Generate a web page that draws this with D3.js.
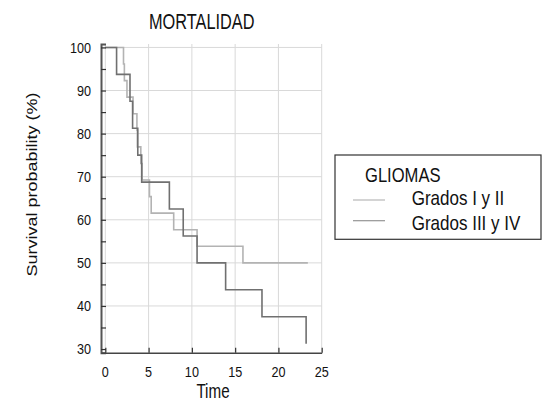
<!DOCTYPE html>
<html>
<head>
<meta charset="utf-8">
<script src="https://cdn.jsdelivr.net/npm/d3@7"></script>
<style>
  html, body { margin: 0; padding: 0; background: #fff; }
  svg { display: block; }
  text { font-family: "Liberation Sans", Arial, sans-serif; fill: #111; }
</style>
</head>
<body>
<svg id="chart" width="542" height="407"></svg>
<script>
// ---- data ----
const title = "MORTALIDAD";
const xLabel = "Time";
const yLabel = "Survival probability (%)";
const legendTitle = "GLIOMAS";
const seriesNames = ["Grados I y II", "Grados III y IV"];

const lowTimes = [0, 2.1, 2.2, 2.5, 3.2, 3.65, 3.7, 4.1, 4.25, 5.1, 5.3, 7.9, 10.6, 15.9, 23.4];
const lowSurv  = [100, 96.15, 92.31, 88.46, 84.62, 80.77, 76.92, 73.08, 69.23, 65.38, 61.54, 57.69, 53.85, 50, 50];

const highTimes = [0, 1.3, 2.85, 3.15, 3.75, 4.2, 7.4, 9.0, 10.6, 13.9, 18.1, 23.2];
const highSurv  = [100, 93.75, 87.5, 81.25, 75, 68.75, 62.5, 56.25, 50, 43.75, 37.5, 31.25];

const xTicks = [0, 5, 10, 15, 20, 25];
const yTicks = [30, 40, 50, 60, 70, 80, 90, 100];
const yMinorTicks = [30, 35, 40, 45, 50, 55, 60, 65, 70, 75, 80, 85, 90, 95, 100];
const yGrid = [40, 50, 60, 70, 80, 90, 100];

const colors = ["#b3b3b3", "#707070"];
const legendColors = ["#b8b8b8", "#959595"];

// ---- layout ----
const svg = d3.select("#chart");
const x = d3.scaleLinear().domain([-0.5, 25]).range([101, 321.7]);
const y = d3.scaleLinear().domain([29.15, 100.8]).range([352.7, 44]);

function txt(str, px, py, size, sx, anchor) {
  return svg.append("text")
    .attr("transform", `translate(${px},${py}) scale(${sx},1)`)
    .attr("text-anchor", anchor || "start")
    .style("font-size", size + "px")
    .text(str);
}

// grid
svg.append("g").selectAll("line.vg").data(xTicks).join("line")
  .attr("x1", d => x(d)).attr("x2", d => x(d))
  .attr("y1", y(100.8)).attr("y2", y(29.15))
  .attr("stroke", "#d9d9d9").attr("stroke-width", 1);
svg.append("g").selectAll("line.hg").data(yGrid).join("line")
  .attr("x1", x(-0.5)).attr("x2", x(25))
  .attr("y1", d => y(d)).attr("y2", d => y(d))
  .attr("stroke", "#d9d9d9").attr("stroke-width", 1);

// curves
const line = d3.line().x(d => x(d[0])).y(d => y(d[1])).curve(d3.curveStepAfter);
const lowData = lowTimes.map((t, i) => [t, lowSurv[i]]);
const highData = highTimes.map((t, i) => [t, highSurv[i]]);
svg.append("path").datum(lowData).attr("d", line)
  .attr("fill", "none").attr("stroke", colors[0]).attr("stroke-width", 1.6);
svg.append("path").datum(highData).attr("d", line)
  .attr("fill", "none").attr("stroke", colors[1]).attr("stroke-width", 1.6);

// y axis
const yAxis = d3.axisRight(y).tickValues(yMinorTicks).tickSize(5).tickFormat("");
const gy = svg.append("g").attr("transform", `translate(${x(-0.5)},0)`).call(yAxis);
gy.select(".domain").attr("stroke", "#555").attr("stroke-width", 2);
gy.selectAll(".tick line").attr("stroke", "#333").attr("stroke-width", 1.2);

// x axis
const xAxis = d3.axisTop(x).tickValues(xTicks).tickSize(5).tickFormat("").tickSizeOuter(0);
const gx = svg.append("g").attr("transform", `translate(0,${y(29.15)})`).call(xAxis);
gx.select(".domain").attr("stroke", "#444").attr("stroke-width", 1.4);
gx.selectAll(".tick line").attr("stroke", "#333").attr("stroke-width", 1.2);

// tick labels
yTicks.forEach(v => txt(String(v), 91, y(v) + 5.2, 14.5, 0.87, "end"));
xTicks.forEach(v => txt(String(v), x(v), 376.7, 14.5, 0.87, "middle"));

// titles
txt(title, 201.7, 29, 21.5, 0.76, "middle");
txt(xLabel, 213, 398, 19.5, 0.78, "middle");
svg.append("text")
  .attr("transform", `translate(37.3,184.5) rotate(-90) scale(1,0.83)`)
  .attr("text-anchor", "middle")
  .style("font-size", "18px")
  .text(yLabel);

// legend
svg.append("rect").attr("x", 335).attr("y", 155).attr("width", 206).attr("height", 84.3)
  .attr("fill", "#fff").attr("stroke", "#333").attr("stroke-width", 1.2);
txt(legendTitle, 365, 181.7, 21, 0.79, "start");
const legY = [200, 220.7];
const legBase = [205, 230];
seriesNames.forEach((n, i) => {
  svg.append("line").attr("x1", 353).attr("x2", 385)
    .attr("y1", legY[i]).attr("y2", legY[i])
    .attr("stroke", legendColors[i]).attr("stroke-width", 1.2);
  txt(n, 411.7, legBase[i], 21, 0.81, "start");
});
</script>
</body>
</html>
